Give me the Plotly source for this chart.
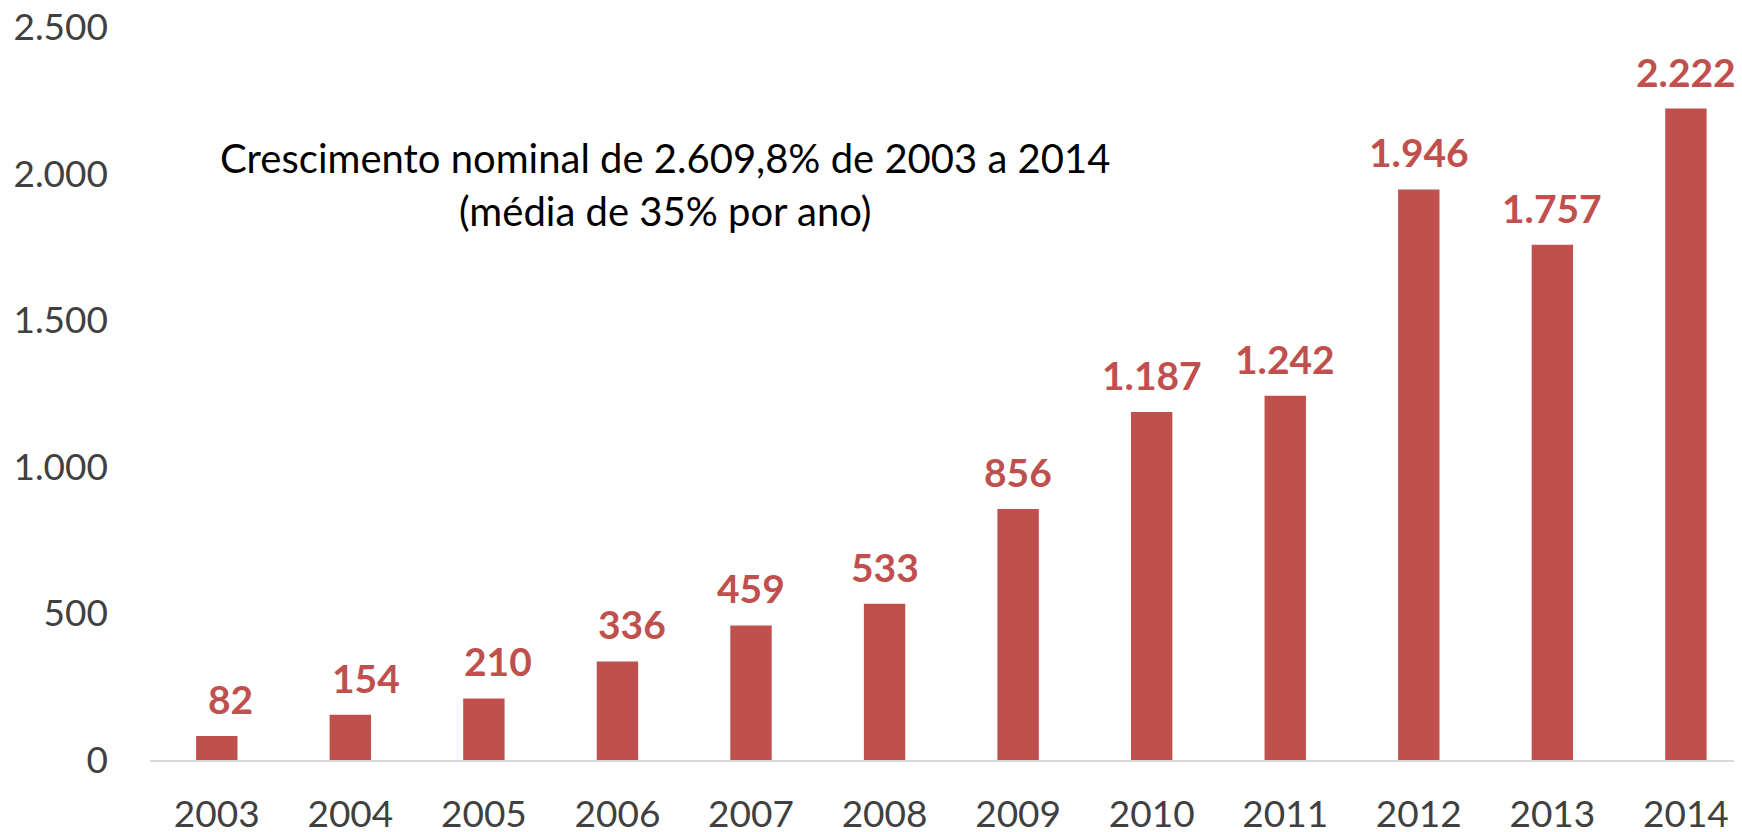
import plotly.graph_objects as go

years = ["2003", "2004", "2005", "2006", "2007", "2008", "2009", "2010", "2011", "2012", "2013", "2014"]
values = [82, 154, 210, 336, 459, 533, 856, 1187, 1242, 1946, 1757, 2222]
label_texts = ["82", "154", "210", "336", "459", "533", "856", "1.187", "1.242", "1.946", "1.757", "2.222"]
y_ticks = [0, 500, 1000, 1500, 2000, 2500]
y_tick_labels = ["0", "500", "1.000", "1.500", "2.000", "2.500"]
note_line1 = "Crescimento nominal de 2.609,8% de 2003 a 2014"
note_line2 = "(média de 35% por ano)"

# style: small horizontal nudges of the first labels, as in the reference
label_xshift = [14, 16, 14, 15, 0, 0, 0, 0, 0, 0, 0, 0]

FONT = "Lato"
RED = "#C0504D"

fig = go.Figure()
fig.add_trace(go.Bar(
    x=years, y=values, marker=dict(color=RED, line=dict(width=0)),
    width=0.31, hoverinfo="x+y",
))

annotations = []
for i, (v, t, dx) in enumerate(zip(values, label_texts, label_xshift)):
    annotations.append(dict(
        x=i, y=v, xref="x", yref="y", text=t, showarrow=False,
        xanchor="center", yanchor="bottom", yshift=12, xshift=dx,
        font=dict(family=FONT, size=39, color=RED, weight="bold"),
    ))

annotations.append(dict(
    x=0.3235, y=2053, xref="paper", yref="y", text=note_line1, showarrow=False,
    xanchor="center", yanchor="middle",
    font=dict(family=FONT, size=40, color="#000000"),
))
annotations.append(dict(
    x=0.3235, y=1872, xref="paper", yref="y", text=note_line2, showarrow=False,
    xanchor="center", yanchor="middle",
    font=dict(family=FONT, size=40, color="#000000"),
))

# page body has an 8px default margin, so the layout is offset to compensate
fig.update_layout(
    width=1742, height=832,
    margin=dict(l=142, r=8, t=19, b=80),
    plot_bgcolor="white", paper_bgcolor="white",
    showlegend=False,
    annotations=annotations,
    xaxis=dict(
        type="category", range=[-0.5, 11.42], automargin=False,
        showline=True, linecolor="#D9D9D9", linewidth=2,
        showgrid=False, ticks="", zeroline=False,
        tickfont=dict(family=FONT, size=37, color="#404040"),
        ticklabelstandoff=21, ticklabeloverflow="allow",
    ),
    yaxis=dict(
        range=[0, 2500], tickvals=y_ticks, ticktext=y_tick_labels, automargin=False,
        showgrid=False, zeroline=False, showline=False, ticks="",
        tickfont=dict(family=FONT, size=37, color="#404040"),
        ticklabelstandoff=41, ticklabeloverflow="allow",
    ),
)

fig.write_html("out.html")
